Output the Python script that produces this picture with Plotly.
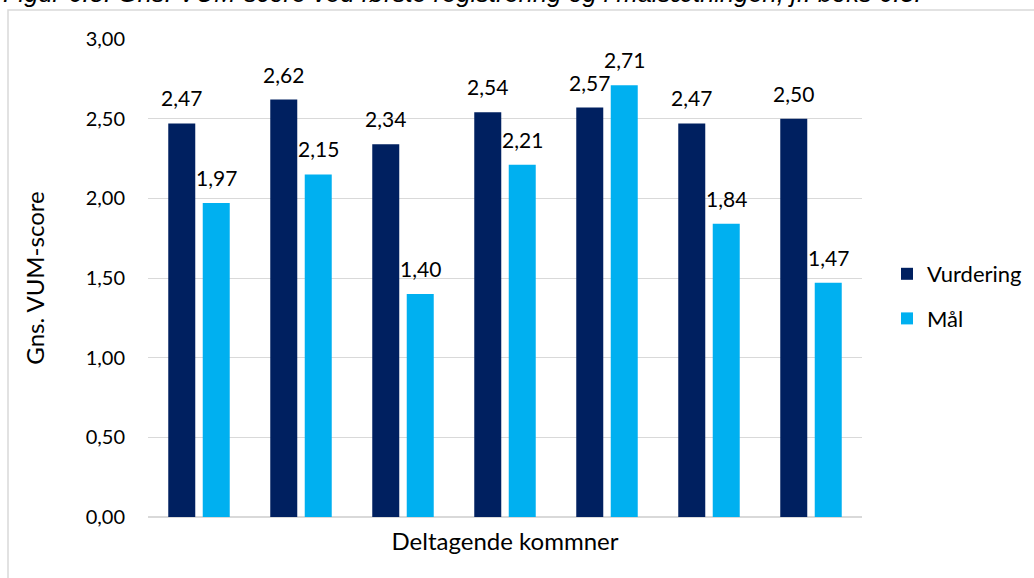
import plotly.graph_objects as go

categories = ["K1", "K2", "K3", "K4", "K5", "K6", "K7"]
vurdering = [2.47, 2.62, 2.34, 2.54, 2.57, 2.47, 2.50]
maal = [1.97, 2.15, 1.40, 2.21, 2.71, 1.84, 1.47]
series_names = ["Vurdering", "Mål"]
tick_vals = [0, 0.5, 1.0, 1.5, 2.0, 2.5, 3.0]

DARK = "#002060"
LIGHT = "#00b0f0"
FONT = "Lato, Carlito, Calibri, sans-serif"

W, H = 1034, 578
L, R, T, B = 148, 172, 39, 61
pw, ph = W - L - R, H - T - B

def px_x(x):
    return (x - L) / pw

def px_y(y):
    return (H - B - y) / ph

fig = go.Figure()
fig.add_trace(go.Bar(x=categories, y=vurdering, name=series_names[0], legendgroup="a",
                     marker=dict(color=DARK, line=dict(width=0))))
fig.add_trace(go.Bar(x=categories, y=maal, name=series_names[1], legendgroup="b",
                     marker=dict(color=LIGHT, line=dict(width=0))))

annotations = []
for vals, shift in ((vurdering, -17.25), (maal, 17.25)):
    for c, v in zip(categories, vals):
        annotations.append(dict(
            x=c, y=v, xref="x", yref="y", text=f"{v:.2f}".replace(".", ","),
            showarrow=False, xshift=shift, yshift=11, yanchor="bottom",
            font=dict(family=FONT, size=21, color="#000000")))

annotations.append(dict(
    x=px_x(1), y=px_y(9.5), xref="paper", yref="paper", xanchor="left", yanchor="bottom",
    text="<i>Figur 6.5: Gns. VUM-score ved første registrering og i målsætningen, jf. boks 6.3.</i>",
    showarrow=False, font=dict(family="Arial, Liberation Sans, sans-serif", size=25.5, color="#000000")))

fig.update_layout(
    width=W, height=H,
    margin=dict(l=L, r=R, t=T, b=B, autoexpand=False),
    paper_bgcolor="white", plot_bgcolor="white",
    separators=",.",
    barmode="group", bargap=0.324, bargroupgap=0.217,
    font=dict(family=FONT, size=20, color="#000000"),
    xaxis=dict(showticklabels=False, showgrid=False, ticks="",
               title=dict(text="Deltagende kommner", standoff=16,
                          font=dict(family=FONT, size=24))),
    yaxis=dict(range=[0, 3.0], tickvals=tick_vals, tickformat=".2f",
               showgrid=True, gridcolor="#d9d9d9", gridwidth=1,
               zeroline=True, zerolinecolor="#d9d9d9", zerolinewidth=2,
               ticks="", ticklabelstandoff=22,
               tickfont=dict(family=FONT, size=20),
               title=dict(text="Gns. VUM-score", standoff=34,
                          font=dict(family=FONT, size=24))),
    legend=dict(x=px_x(887), y=px_y(253), xanchor="left", yanchor="top",
                font=dict(family=FONT, size=22), itemwidth=30,
                tracegroupgap=13, bgcolor="rgba(0,0,0,0)"),
    annotations=annotations,
    shapes=[dict(type="rect", xref="paper", yref="paper",
                 x0=px_x(8), x1=px_x(1060), y0=px_y(600), y1=px_y(10),
                 line=dict(color="#d9d9d9", width=1.5), layer="below")],
)

fig.write_html("out.html")
